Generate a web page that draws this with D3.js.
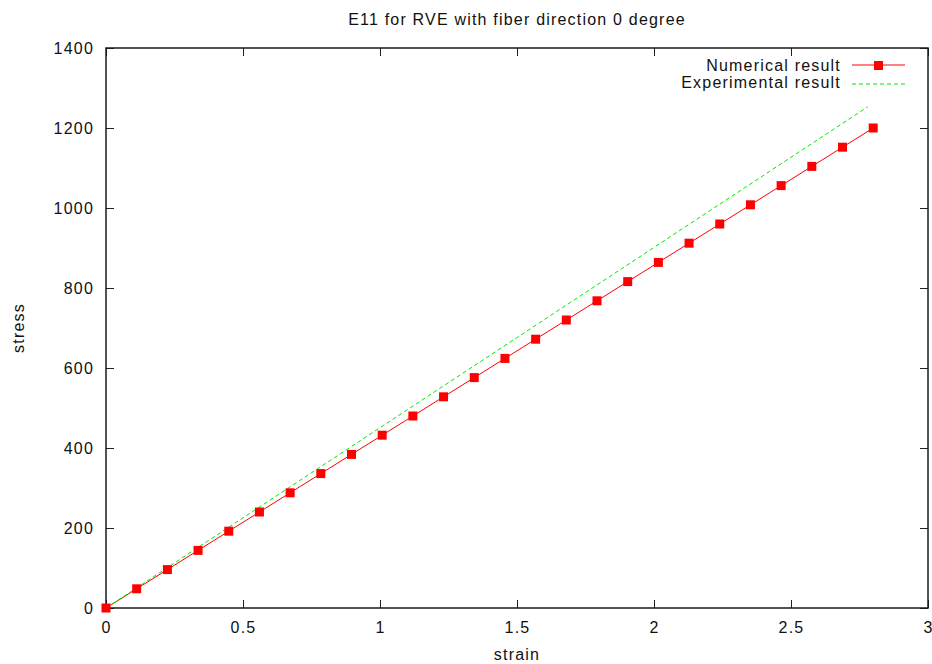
<!DOCTYPE html>
<html>
<head>
<meta charset="UTF-8">
<style>
  body { margin: 0; background: #fff; }
  svg { display: block; font-family: "Liberation Sans", Arial, sans-serif; }
  svg text { letter-spacing: 1.2px; }
</style>
</head>
<body>
<script src="https://d3js.org/d3.v7.min.js"></script>
<script>
// numerical result
var numStrain = [0, 0.112, 0.224, 0.336, 0.448, 0.56, 0.672, 0.784, 0.896, 1.008, 1.12, 1.232, 1.344,
  1.456, 1.568, 1.68, 1.792, 1.904, 2.016, 2.128, 2.24, 2.352, 2.464, 2.576, 2.688, 2.8];
var numStress = [0, 48, 96, 144, 192, 240, 288, 336, 384, 432, 480, 528, 576,
  624, 672, 720, 768, 816, 864, 912, 960, 1008, 1056, 1104, 1152, 1200];
// experimental result (straight line)
var expStrain = [0, 2.78];
var expStress = [0, 1253];

var xTicks = [0, 0.5, 1, 1.5, 2, 2.5, 3];
var xTickLabels = ["0", "0.5", "1", "1.5", "2", "2.5", "3"];
var yTicks = [0, 200, 400, 600, 800, 1000, 1200, 1400];

var W = 932, H = 664;
var m = {left: 106, right: 4, top: 48, bottom: 56};

var svg = d3.select("body").append("svg").attr("width", W).attr("height", H);

var x = d3.scaleLinear().domain([0, 3]).range([m.left, W - m.right]);
var y = d3.scaleLinear().domain([0, 1400]).range([H - m.bottom, m.top]);

var tickLen = 8;

// axes: labels on bottom/left, mirrored ticks on top/right
var gBottom = svg.append("g").attr("transform", "translate(0," + y(0) + ")")
  .call(d3.axisBottom(x).tickValues(xTicks).tickSize(-tickLen).tickPadding(12)
    .tickFormat(function(d, i) { return xTickLabels[i]; }));
var gTop = svg.append("g").attr("transform", "translate(0," + y(1400) + ")")
  .call(d3.axisTop(x).tickValues(xTicks).tickSize(-tickLen).tickFormat(""));
var gLeft = svg.append("g").attr("transform", "translate(" + x(0) + ",0)")
  .call(d3.axisLeft(y).tickValues(yTicks).tickSize(-tickLen).tickPadding(12).tickFormat(d3.format("d")));
var gRight = svg.append("g").attr("transform", "translate(" + x(3) + ",0)")
  .call(d3.axisRight(y).tickValues(yTicks).tickSize(-tickLen).tickFormat(""));

[gBottom, gTop, gLeft, gRight].forEach(function(g) {
  g.select(".domain").remove();
  g.selectAll(".tick line").attr("stroke", "#222").attr("stroke-width", 1);
  g.selectAll("text").attr("fill", "#111").style("font-size", "16px")
    .style("font-family", "Liberation Sans, Arial, sans-serif");
});
gBottom.selectAll("text").attr("dy", "0.8em");
gLeft.selectAll("text").attr("dy", "0.36em");

// frame
svg.append("rect")
  .attr("x", x(0)).attr("y", y(1400))
  .attr("width", x(3) - x(0)).attr("height", y(0) - y(1400))
  .attr("fill", "none").attr("stroke", "#1a1a1a").attr("stroke-width", 1.5);

var expData = expStrain.map(function(d, i) { return [d, expStress[i]]; });
var numData = numStrain.map(function(d, i) { return [d, numStress[i]]; });
var line = d3.line().x(function(d) { return x(d[0]); }).y(function(d) { return y(d[1]); });

svg.append("path").datum(numData).attr("d", line)
  .attr("fill", "none").attr("stroke", "#ff0000").attr("stroke-width", 1);
svg.append("path").datum(expData).attr("d", line)
  .attr("fill", "none").attr("stroke", "#00e600").attr("stroke-width", 1)
  .attr("stroke-dasharray", "4,3");

svg.selectAll("rect.pt").data(numData).enter().append("rect").attr("class", "pt")
  .attr("x", function(d) { return x(d[0]) - 4.5; })
  .attr("y", function(d) { return y(d[1]) - 4.5; })
  .attr("width", 9).attr("height", 9).attr("fill", "#ff0000");

// legend
var lg = svg.append("g").style("font-size", "16px").attr("fill", "#111");
lg.append("text").attr("x", 841).attr("y", 71).attr("text-anchor", "end").text("Numerical result");
lg.append("line").attr("x1", 852).attr("x2", 905).attr("y1", 65).attr("y2", 65)
  .attr("stroke", "#ff0000").attr("stroke-width", 1);
lg.append("rect").attr("x", 874).attr("y", 61).attr("width", 9).attr("height", 9).attr("fill", "#ff0000");
lg.append("text").attr("x", 841).attr("y", 88).attr("text-anchor", "end").text("Experimental result");
lg.append("line").attr("x1", 852).attr("x2", 905).attr("y1", 84).attr("y2", 84)
  .attr("stroke", "#00e600").attr("stroke-width", 1).attr("stroke-dasharray", "4,3");

// titles
svg.append("text").attr("x", 517).attr("y", 25).attr("text-anchor", "middle")
  .style("font-size", "16px").attr("fill", "#111").text("E11 for RVE with fiber direction 0 degree");
svg.append("text").attr("x", 517).attr("y", 660).attr("text-anchor", "middle")
  .style("font-size", "16px").attr("fill", "#111").text("strain");
svg.append("text").attr("transform", "translate(24," + 328 + ") rotate(-90)").attr("text-anchor", "middle")
  .style("font-size", "16px").attr("fill", "#111").text("stress");
</script>
</body>
</html>
